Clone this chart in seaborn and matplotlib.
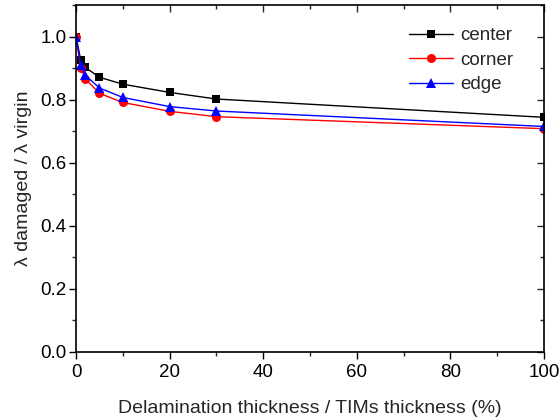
import numpy as np
import pandas as pd
import matplotlib
matplotlib.use("Agg")
import matplotlib.pyplot as plt
import seaborn as sns
from matplotlib.ticker import MultipleLocator

x_vals = [0, 1, 2, 5, 10, 20, 30, 100]
center = [1.0, 0.926, 0.902, 0.871, 0.849, 0.823, 0.802, 0.744]
corner = [1.0, 0.900, 0.866, 0.820, 0.791, 0.763, 0.746, 0.708]
edge = [1.0, 0.911, 0.877, 0.837, 0.807, 0.778, 0.764, 0.715]
series_names = ["center", "corner", "edge"]
colors = {"center": "black", "corner": "red", "edge": "blue"}
markers = {"center": "s", "corner": "o", "edge": "^"}
msizes = {"center": 6, "corner": 6.5, "edge": 7.5}

df = pd.concat([
    pd.DataFrame({"x": x_vals, "y": vals, "series": name})
    for name, vals in zip(series_names, [center, corner, edge])
])

sns.set_theme(style="ticks")
plt.rcParams["font.family"] = ["Liberation Sans", "DejaVu Sans"]

fig = plt.figure(figsize=(5.59, 4.20), dpi=100)
ax = fig.add_axes([0.136, 0.162, 0.837, 0.826])

for name in series_names:
    sub = df[df["series"] == name]
    sns.lineplot(data=sub, x="x", y="y", color=colors[name], marker=markers[name],
                 markersize=msizes[name], markeredgewidth=0, linewidth=1.0,
                 label=name, ax=ax)

ax.set_xlim(0, 100)
ax.set_ylim(0, 1.1)
ax.xaxis.set_major_locator(MultipleLocator(20))
ax.xaxis.set_minor_locator(MultipleLocator(10))
ax.yaxis.set_major_locator(MultipleLocator(0.2))
ax.yaxis.set_minor_locator(MultipleLocator(0.1))
ax.yaxis.set_major_formatter(matplotlib.ticker.FormatStrFormatter("%.1f"))
ax.tick_params(which="major", direction="out", length=5, width=1, labelsize=13.5,
               colors="black", pad=2)
ax.tick_params(axis="x", which="major", pad=4)
ax.tick_params(which="minor", direction="out", length=3, width=1)

for side in ["top", "right", "bottom", "left"]:
    ax.spines[side].set_visible(True)
    ax.spines[side].set_linewidth(1.2)
    ax.spines[side].set_color("black")

secx = ax.secondary_xaxis("top")
secx.xaxis.set_major_locator(MultipleLocator(20))
secx.xaxis.set_minor_locator(MultipleLocator(10))
secx.tick_params(which="major", direction="in", length=5, width=1, labeltop=False)
secx.tick_params(which="minor", direction="in", length=3, width=1)
secx.spines["top"].set_visible(False)
secy = ax.secondary_yaxis("right")
secy.yaxis.set_major_locator(MultipleLocator(0.2))
secy.yaxis.set_minor_locator(MultipleLocator(0.1))
secy.tick_params(which="major", direction="in", length=5, width=1, labelright=False)
secy.tick_params(which="minor", direction="in", length=3, width=1)
secy.spines["right"].set_visible(False)

ax.set_xlabel("Delamination thickness / TIMs thickness (%)", fontsize=14, labelpad=13)
ax.set_ylabel("λ damaged / λ virgin", fontsize=14, labelpad=6)

leg = ax.legend(loc="upper right", bbox_to_anchor=(0.97, 0.985), frameon=False,
                fontsize=13.5, handlelength=2.35, handletextpad=0.35, labelspacing=0.4)

fig.savefig("out.png", dpi=100)
